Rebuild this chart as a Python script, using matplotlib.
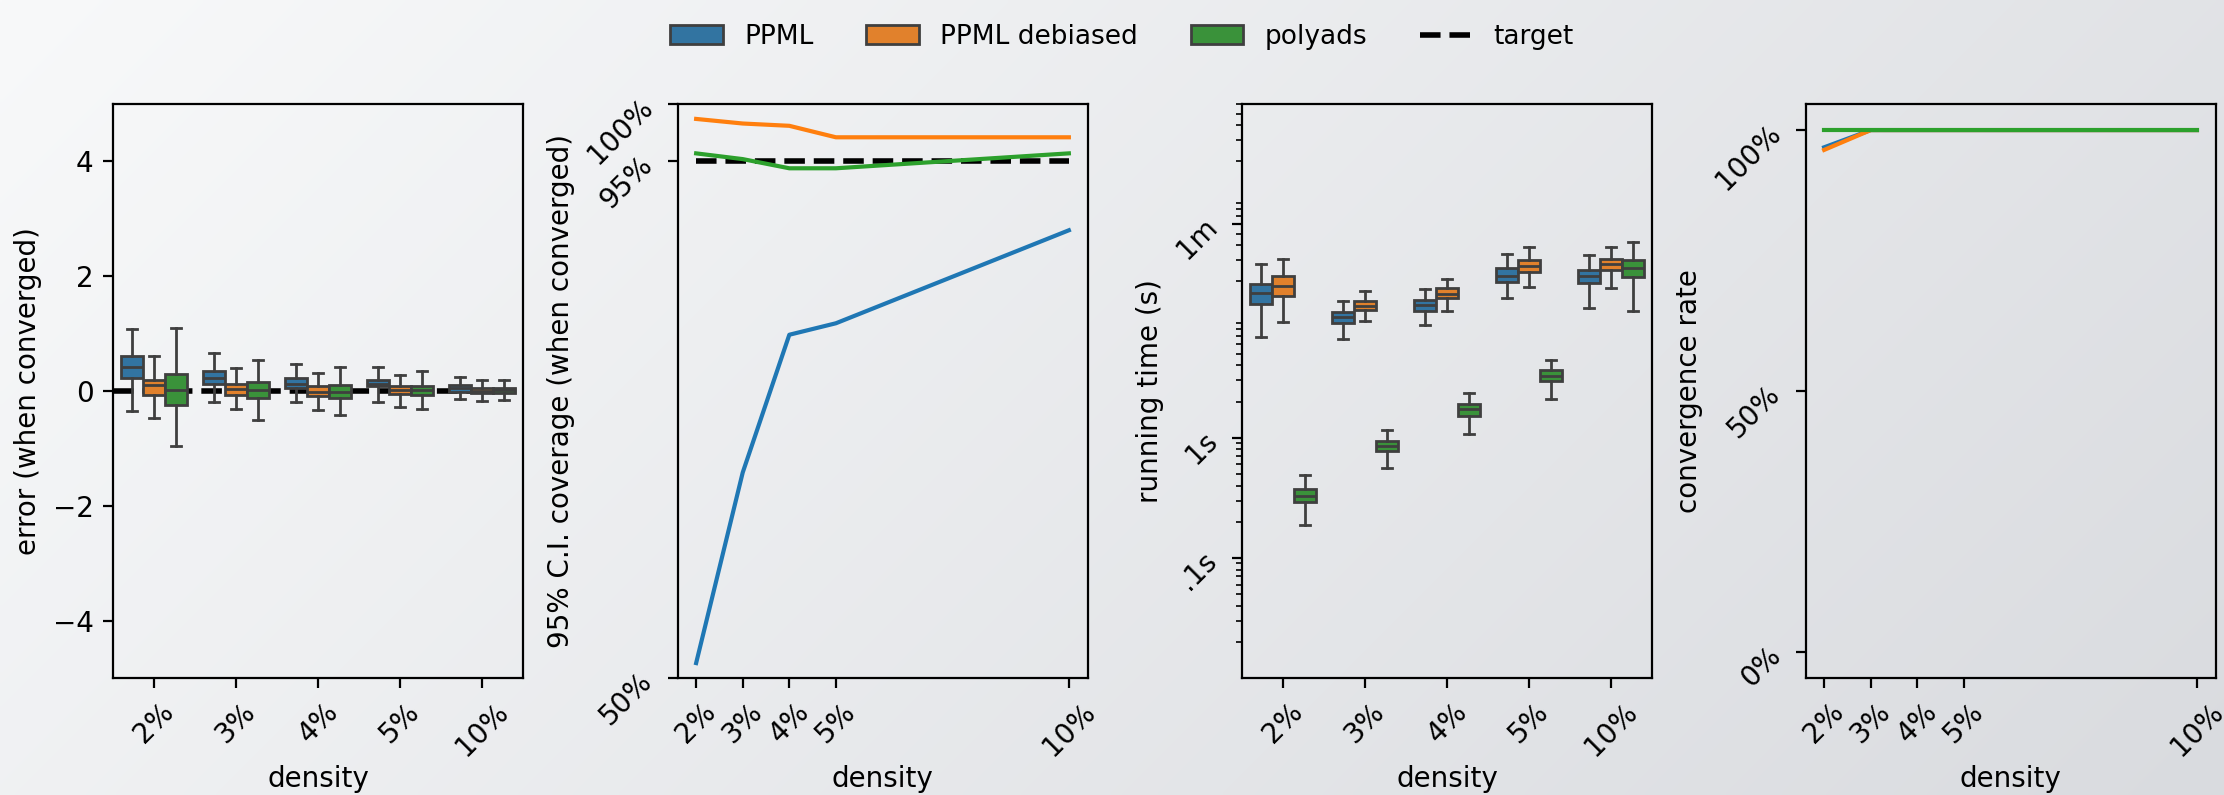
import numpy as np
import matplotlib
matplotlib.use("Agg")
import matplotlib.pyplot as plt
from matplotlib.patches import Patch
from matplotlib.lines import Line2D

# densities (in %) and labels
densities = [2, 3, 4, 5, 10]
density_labels = ["2%", "3%", "4%", "5%", "10%"]
methods = ["PPML", "PPML debiased", "polyads"]

# error boxes: (whislo, q1, med, q3, whishi) per density
err_ppml = [(-0.34, 0.23, 0.42, 0.61, 1.08), (-0.19, 0.12, 0.22, 0.35, 0.66),
            (-0.20, 0.06, 0.13, 0.22, 0.47), (-0.20, 0.08, 0.13, 0.20, 0.42),
            (-0.14, -0.02, 0.05, 0.10, 0.25)]
err_debiased = [(-0.47, -0.07, 0.10, 0.20, 0.61), (-0.31, -0.07, 0.03, 0.12, 0.40),
                (-0.33, -0.08, -0.01, 0.08, 0.31), (-0.28, -0.06, 0.02, 0.09, 0.28),
                (-0.17, -0.04, 0.00, 0.05, 0.19)]
err_polyads = [(-0.96, -0.25, 0.02, 0.29, 1.09), (-0.51, -0.12, 0.01, 0.16, 0.54),
               (-0.42, -0.12, -0.01, 0.10, 0.41), (-0.32, -0.07, 0.01, 0.09, 0.35),
               (-0.16, -0.03, 0.02, 0.06, 0.19)]

# 95% CI coverage
cov_ppml = [0.513, 0.679, 0.799, 0.809, 0.890]
cov_debiased = [0.987, 0.983, 0.981, 0.971, 0.971]
cov_polyads = [0.957, 0.952, 0.944, 0.944, 0.957]
cov_target = [0.95, 0.95, 0.95, 0.95, 0.95]

# running time in seconds: (whislo, q1, med, q3, whishi)
time_ppml = [(6.9, 13.0, 16.0, 19.1, 28.0), (6.7, 9.0, 10.1, 11.1, 13.8),
             (8.6, 11.4, 12.7, 14.1, 17.3), (14.5, 19.9, 22.4, 26.0, 34.0),
             (12.0, 19.5, 22.1, 25.1, 33.3)]
time_debiased = [(9.2, 15.1, 18.2, 22.0, 30.9), (9.4, 11.6, 12.6, 13.8, 16.6),
                 (11.4, 14.5, 15.7, 17.6, 21.0), (17.9, 23.9, 26.8, 30.3, 38.7),
                 (17.6, 24.8, 27.7, 30.9, 38.7)]
time_polyads = [(0.189, 0.29, 0.33, 0.377, 0.49), (0.56, 0.77, 0.85, 0.94, 1.15),
                (1.08, 1.51, 1.72, 1.90, 2.35), (2.09, 2.97, 3.27, 3.67, 4.45),
                (11.4, 21.7, 25.8, 29.9, 42.6)]

# convergence rate
conv_ppml = [0.967, 1.0, 1.0, 1.0, 1.0]
conv_debiased = [0.962, 1.0, 1.0, 1.0, 1.0]
conv_polyads = [1.0, 1.0, 1.0, 1.0, 1.0]

box_colors = ["#3274a1", "#e1812c", "#3a923a"]
line_colors = ["#1f77b4", "#ff7f0e", "#2ca02c"]
gray = "#3f3f3f"

W, H = 2224, 795
fig = plt.figure(figsize=(W / 200, H / 200), dpi=200)

# background gradient
bg = fig.add_axes([0, 0, 1, 1], zorder=-10)
yy, xx = np.mgrid[0:H:4, 0:W:4]
t = (xx + yy) / (W + H)
c0 = np.array([248, 249, 250]) / 255
c1 = np.array([217, 219, 223]) / 255
grad = c0[None, None, :] * (1 - t[..., None]) + c1[None, None, :] * t[..., None]
bg.imshow(grad, extent=[0, 1, 0, 1], aspect="auto", interpolation="bilinear")
bg.axis("off")

lefts = [113, 677.5, 1242, 1805.5]
axes = [fig.add_axes([l / W, 1 - 678 / H, 410 / W, 574 / H]) for l in lefts]
for ax in axes:
    ax.set_facecolor("none")


def draw_boxes(ax, groups):
    width = 0.8 / len(groups)
    for k, (data, c) in enumerate(zip(groups, box_colors)):
        stats = [dict(whislo=d[0], q1=d[1], med=d[2], q3=d[3], whishi=d[4]) for d in data]
        pos = np.arange(len(data)) - 0.4 + width * (k + 0.5)
        ax.bxp(stats, positions=pos, widths=width * 0.98, patch_artist=True,
               showfliers=False, manage_ticks=False, zorder=2,
               boxprops=dict(facecolor=c, edgecolor=gray, linewidth=1),
               whiskerprops=dict(color=gray, linewidth=1),
               capprops=dict(color=gray, linewidth=1),
               medianprops=dict(color=gray, linewidth=1))
    ax.set_xlim(-0.5, len(density_labels) - 0.5)
    ax.set_xticks(range(len(density_labels)), density_labels, rotation=45)
    ax.set_xlabel("density", labelpad=1.5)


# panel 1: error
ax = axes[0]
ax.axhline(0, color="black", ls="--", lw=2, zorder=1)
draw_boxes(ax, [err_ppml, err_debiased, err_polyads])
ax.set_ylim(-5, 5)
ax.set_ylabel("error (when converged)")

# panel 2: coverage
ax = axes[1]
ax.plot(densities, cov_target, color="black", ls="--", lw=2, zorder=1.5)
for vals, c in zip([cov_ppml, cov_debiased, cov_polyads], line_colors):
    ax.plot(densities, vals, color=c, zorder=2)
ax.set_ylim(0.5, 1.0)
ax.set_yticks([0.5, 0.95, 1.0], ["50%", "95%", "100%"], rotation=45)
ax.set_xticks(densities, density_labels, rotation=45)
ax.set_xlabel("density", labelpad=1.5)
ax.set_ylabel("95% C.I. coverage (when converged)", labelpad=2.5)

# panel 3: running time
ax = axes[2]
draw_boxes(ax, [time_ppml, time_debiased, time_polyads])
ax.set_yscale("log")
ax.set_ylim(0.01, 600)
ax.set_yticks([0.1, 1, 60], [".1s", "1s", "1m"], rotation=45)
ax.set_ylabel("running time (s)", labelpad=2.5)

# panel 4: convergence rate
ax = axes[3]
for vals, c in zip([conv_ppml, conv_debiased, conv_polyads], line_colors):
    ax.plot(densities, vals, color=c)
ax.set_ylim(-0.05, 1.05)
ax.set_yticks([0, 0.5, 1.0], ["0%", "50%", "100%"], rotation=45)
ax.set_xticks(densities, density_labels, rotation=45)
ax.set_xlabel("density", labelpad=1.5)
ax.set_ylabel("convergence rate", labelpad=2.5)

handles = [Patch(facecolor=c, edgecolor=gray, linewidth=1) for c in box_colors]
handles.append(Line2D([], [], color="black", ls="--", lw=2))
fig.legend(handles, methods + ["target"], loc="upper center", ncol=4,
           frameon=False, fontsize=9.5, bbox_to_anchor=(0.5045, 1.0))

fig.savefig("out.png", dpi=200)
